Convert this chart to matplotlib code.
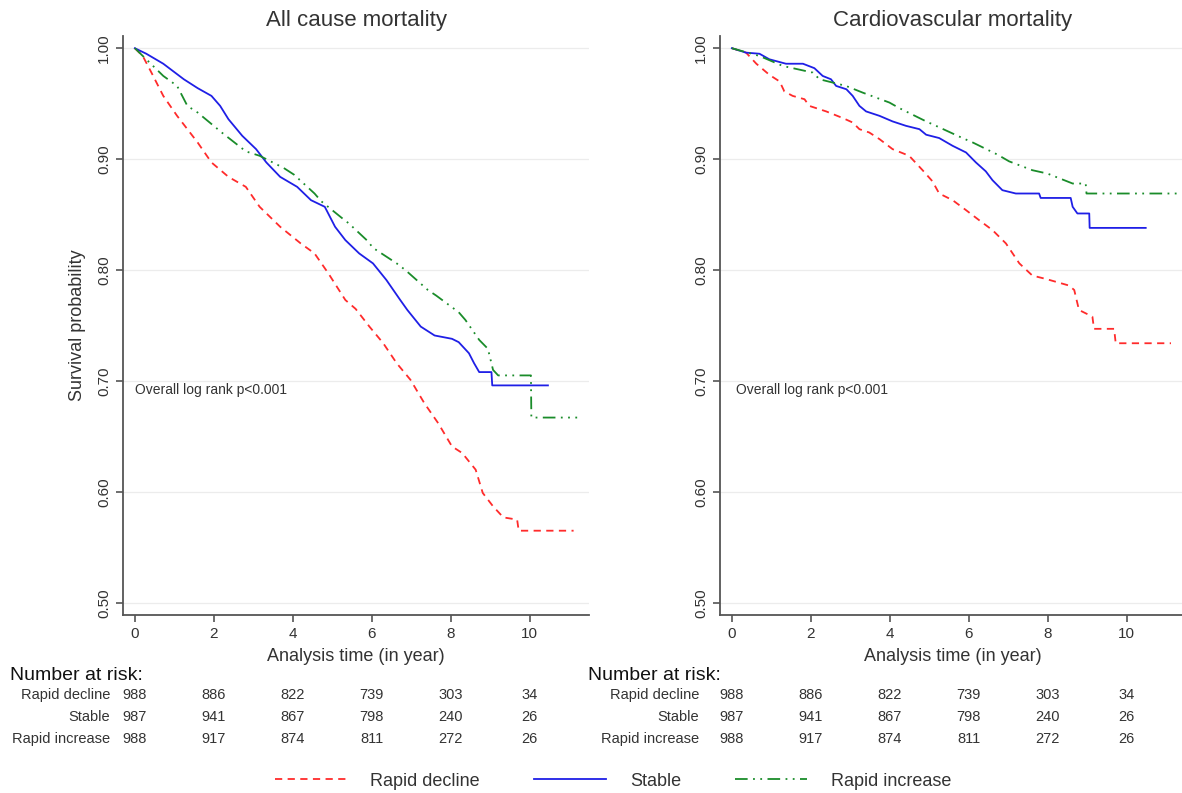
import matplotlib
matplotlib.use("Agg")
import matplotlib.pyplot as plt
from matplotlib import font_manager
from matplotlib.transforms import blended_transform_factory

# fonts: Arial look-alike, narrow one for the risk table if present
names = {f.name for f in font_manager.fontManager.ttflist}
plt.rcParams['font.family'] = ['Liberation Sans', 'DejaVu Sans']
narrow = 'Liberation Sans Narrow' if 'Liberation Sans Narrow' in names else 'Liberation Sans'
tab_size = 11 if narrow != 'Liberation Sans' else 10.5

W, H = 1182, 793

groups = ["Rapid decline", "Stable", "Rapid increase"]
colors = ["#ff2b2b", "#1f1fe6", "#1a8c2a"]
titles = ["All cause mortality", "Cardiovascular mortality"]
ticks_x = [0, 2, 4, 6, 8, 10]
ticks_y = [0.50, 0.60, 0.70, 0.80, 0.90, 1.00]

# number at risk (same table under both panels)
risk = {
    "Rapid decline": [988, 886, 822, 739, 303, 34],
    "Stable": [987, 941, 867, 798, 240, 26],
    "Rapid increase": [988, 917, 874, 811, 272, 26],
}

# all cause mortality
ac_decline_t = [0, 0.2, 0.42, 0.72, 1.07, 1.59, 1.94, 2.37, 2.81, 3.16, 3.68, 4.2, 4.55, 4.9,
                5.33, 5.59, 5.94, 6.29, 6.63, 6.98, 7.33, 7.68, 8.03, 8.29, 8.63, 8.81, 9.07,
                9.33, 9.68, 9.72, 11.11]
ac_decline_s = [1, .993, .978, .957, .939, .915, .897, .884, .875, .857, .839, .824, .815, .797,
                .773, .765, .749, .734, .716, .701, .680, .662, .641, .635, .620, .599, .587,
                .577, .575, .565, .565]
ac_stable_t = [0, .29, .72, 1.24, 1.59, 1.94, 2.16, 2.37, 2.72, 3.07, 3.33, 3.68, 4.11, 4.46,
               4.81, 5.07, 5.33, 5.68, 6.03, 6.37, 6.72, 6.9, 7.24, 7.59, 8.03, 8.2, 8.46, 8.59,
               8.72, 9.03, 9.05, 10.46]
ac_stable_s = [1, .995, .986, .972, .964, .957, .948, .936, .921, .909, .897, .884, .875, .863,
               .857, .839, .827, .815, .806, .791, .773, .764, .749, .741, .738, .735, .725, .716,
               .708, .708, .696, .696]
ac_increase_t = [0, .72, 1.07, 1.33, 1.59, 2.2, 2.81, 3.16, 3.77, 4.03, 4.55, 4.72, 5.24, 5.42,
                 5.9, 6.03, 6.63, 6.85, 7.42, 7.63, 8.2, 8.37, 8.72, 8.94, 9.07, 9.2, 10.03,
                 10.04, 11.2]
ac_increase_s = [1, .975, .966, .948, .942, .924, .907, .903, .892, .886, .869, .862, .847, .842,
                 .826, .820, .806, .800, .782, .777, .762, .755, .737, .729, .710, .705, .705,
                 .667, .667]

# cardiovascular mortality
cv_decline_t = [0, .36, .62, .95, 1.21, 1.33, 1.54, 1.84, 1.96, 2.39, 2.81, 3.06, 3.23, 3.48,
                3.74, 4.07, 4.49, 4.83, 5.08, 5.25, 5.59, 5.93, 6.26, 6.6, 6.94, 7.28, 7.61,
                7.95, 8.54, 8.67, 8.79, 9.13, 9.17, 9.68, 9.72, 11.12]
cv_decline_s = [1, .996, .986, .976, .970, .961, .957, .954, .948, .943, .937, .933, .927, .924,
                .918, .909, .903, .890, .880, .869, .863, .854, .845, .836, .824, .806, .795,
                .792, .786, .782, .764, .758, .747, .747, .734, .734]
cv_stable_t = [0, .36, .70, .95, 1.37, 1.8, 2.09, 2.3, 2.51, 2.64, 2.9, 3.06, 3.23, 3.4, 3.74,
               4.07, 4.41, 4.75, 4.92, 5.25, 5.59, 5.93, 6.18, 6.43, 6.6, 6.85, 7.19, 7.78, 7.82,
               8.58, 8.63, 8.75, 9.05, 9.06, 10.48]
cv_stable_s = [1, .996, .995, .990, .986, .986, .982, .975, .972, .966, .963, .957, .948, .943,
               .939, .934, .930, .927, .922, .919, .912, .906, .897, .889, .881, .872, .869, .869,
               .865, .865, .857, .851, .851, .838, .838]
cv_increase_t = [0, .7, 1.29, 2.05, 2.22, 2.89, 3.31, 3.99, 4.24, 4.92, 5.17, 5.84, 6.1, 6.73,
                 7.02, 7.61, 7.99, 8.63, 8.96, 8.98, 11.3]
cv_increase_s = [1, .993, .984, .978, .972, .966, .960, .951, .946, .934, .930, .919, .915, .904,
                 .898, .890, .887, .878, .878, .869, .869]

panels = [
    [(ac_decline_t, ac_decline_s), (ac_stable_t, ac_stable_s), (ac_increase_t, ac_increase_s)],
    [(cv_decline_t, cv_decline_s), (cv_stable_t, cv_stable_s), (cv_increase_t, cv_increase_s)],
]
styles = [dict(ls=(0, (4, 3))), dict(ls='-'), dict(ls=(0, (7, 3, 1, 3, 1, 3)))]

fig = plt.figure(figsize=(W / 100, H / 100), dpi=100)

def fx(x):
    return x / W

def fy(y):
    return 1 - y / H

xlim = (-0.30, 11.5)
ylim = (0.489, 1.011)
ax_left_px = [123, 720]
ax_w_px = 466
ax_top, ax_bot = 36, 615
dark = "#333333"

axes = []
for k in range(2):
    ax = fig.add_axes([fx(ax_left_px[k]), fy(ax_bot), ax_w_px / W, (ax_bot - ax_top) / H])
    axes.append(ax)
    for (t, s), c, st, g in zip(panels[k], colors, styles, groups):
        ax.plot(t, s, color=c, lw=1.3, label=g, **st)
    ax.set_xlim(*xlim)
    ax.set_ylim(*ylim)
    ax.set_xticks(ticks_x)
    ax.set_yticks(ticks_y)
    ax.set_yticklabels(["%.2f" % v for v in ticks_y], rotation=90, va='center')
    ax.grid(axis='y', color='#ececec', lw=0.9)
    ax.set_axisbelow(True)
    for sp in ['top', 'right']:
        ax.spines[sp].set_visible(False)
    for sp in ['left', 'bottom']:
        ax.spines[sp].set_color('#555555')
        ax.spines[sp].set_linewidth(1.3)
    ax.tick_params(colors='#555555', labelcolor=dark, labelsize=11, length=5, width=1.2)
    ax.tick_params(axis='x', pad=4)
    ax.set_title(titles[k], fontsize=16, color=dark, pad=7)
    ax.set_xlabel("Analysis time (in year)", fontsize=13, color=dark, labelpad=5)
    ax.text(0.0 if k == 0 else 0.1, 0.692, "Overall log rank p<0.001", fontsize=10,
            color=dark, va='center', ha='left')

axes[0].set_ylabel("Survival probability", fontsize=13, color=dark, labelpad=8)

# number at risk tables
head_x = [10, 588]
lab_x = [110, 699]
row_y = [695, 717, 739]
for k, ax in enumerate(axes):
    tr = blended_transform_factory(ax.transData, fig.transFigure)
    fig.text(fx(head_x[k]), fy(675), "Number at risk:", fontsize=14, color='#111111',
             va='center', ha='left')
    for g, yy in zip(groups, row_y):
        fig.text(fx(lab_x[k]), fy(yy), g, fontsize=tab_size, family=narrow, color=dark,
                 va='center', ha='right')
        for xv, n in zip(ticks_x, risk[g]):
            ax.text(xv, fy(yy), str(n), transform=tr, fontsize=tab_size, family=narrow,
                    color=dark, va='center', ha='center')

handles, labels = axes[0].get_legend_handles_labels()
fig.legend(handles, labels, loc='center', bbox_to_anchor=(fx(613), fy(781)), ncol=3,
           frameon=False, fontsize=13, handlelength=4, handletextpad=1.3, columnspacing=3,
           labelcolor=dark)

fig.savefig("out.png", dpi=100)
